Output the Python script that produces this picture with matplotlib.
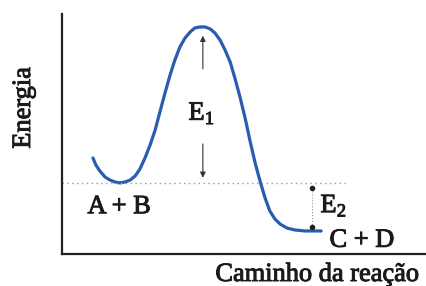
import numpy as np
import matplotlib.pyplot as plt
import matplotlib.patheffects as pe

# energy profile (reaction coordinate 0-100, energy 0-100)
path = [8.5, 9.3, 10.4, 11.8, 13.2, 14.6, 15.9, 17.3, 18.7, 20.1, 21.4, 22.8, 24.2,
        25.6, 26.9, 28.3, 29.7, 31.0, 32.4, 33.8, 35.2, 36.5, 37.9, 39.3, 40.7, 42.0,
        43.4, 44.8, 46.2, 47.5, 48.9, 50.3, 51.6, 53.0, 54.4, 55.8, 57.1, 58.5, 59.9,
        61.8, 64.0, 66.8, 71.2]
energy = [40.0, 37.1, 34.6, 32.1, 30.8, 30.0, 29.6, 30.0, 30.8, 32.5, 35.4, 40.0, 45.4,
          51.7, 59.2, 67.1, 74.6, 80.8, 86.3, 90.0, 92.5, 94.2, 94.6, 94.6, 93.8, 92.1,
          89.2, 85.0, 80.0, 73.3, 65.4, 56.7, 47.5, 38.3, 30.4, 23.3, 17.9, 14.6, 12.5,
          10.8, 10.0, 9.6, 9.6]

e_reag = 29.6      # A + B
e_prod = 9.6       # C + D
e_peak = 94.6
x_e1 = 38.7
x_e2 = 68.7

fig = plt.figure(figsize=(4.26, 2.86), dpi=100)
ax = fig.add_axes([62/426, 32/286, 364/426, 240/286])
ax.set_xlim(0, 100)
ax.set_ylim(0, 100)
for s in ['top', 'right']:
    ax.spines[s].set_visible(False)
for s in ['left', 'bottom']:
    ax.spines[s].set_linewidth(1.6)
    ax.spines[s].set_color('#222222')
ax.set_xticks([])
ax.set_yticks([])

ax.plot(path, energy, color='#2a5cb0', lw=2.3, solid_capstyle='round',
        solid_joinstyle='round')

# dotted reference level
ax.plot([0, 78], [e_reag, e_reag], ls=(0, (1, 2.5)), color='#8a9ab8', lw=1)

# E1 arrow (with gap for label)
ax.annotate('', xy=(x_e1, e_peak - 2.5), xytext=(x_e1, 76),
            arrowprops=dict(arrowstyle='-|>', color='#333333', lw=0.8, mutation_scale=8))
ax.annotate('', xy=(x_e1, e_reag + 1.0), xytext=(x_e1, 47),
            arrowprops=dict(arrowstyle='-|>', color='#333333', lw=0.8, mutation_scale=8))

# E2 marker
ax.plot([x_e2, x_e2], [e_reag - 2, e_prod + 1.5], color='#999999', lw=0.8, ls=':')
ax.plot([x_e2, x_e2], [e_reag - 2, e_prod + 1.5], 'o', color='#222222', ms=3)

thick = [pe.withStroke(linewidth=0.7, foreground='#1a1a1a')]
font = dict(family='Liberation Serif', fontsize=19, color='#1a1a1a', path_effects=thick)
ax.text(x_e1 - 0.3, 58.5, r'E$_{\mathregular{1}}$', ha='center', va='center', **font)
ax.text(x_e2 + 2.3, 20.0, r'E$_{\mathregular{2}}$', ha='left', va='center', **font)
ax.text(7, 19.5, 'A + B', ha='left', va='center', **font)
ax.text(73.5, 5.5, 'C + D', ha='left', va='center', **font)
fig.text(419/426, 11/286, 'Caminho da reação', ha='right', va='center', **font)
fig.text(24/426, 178/286, 'Energia', ha='center', va='center', rotation=90, **font)

fig.savefig('out.png', dpi=100)
